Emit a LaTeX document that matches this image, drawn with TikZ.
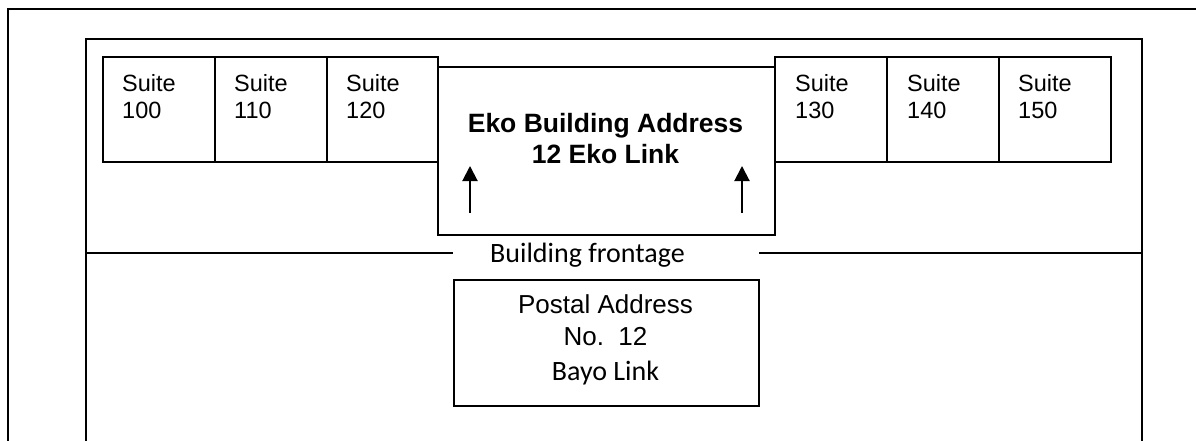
\documentclass[tikz,border=0pt]{standalone}
\usepackage{fontspec}
\setmainfont{Liberation Sans}
\newfontfamily\carlitofont{Carlito}
\usetikzlibrary{arrows.meta}
\begin{document}
\begin{tikzpicture}[x=1pt,y=-1pt,
  frame/.style={line width=2pt, draw=black},
  box/.style={draw=black, line width=2pt, inner sep=0pt, anchor=north west},
  suitebox/.style={box, minimum width=112pt, minimum height=105pt},
  suitetxt/.style={anchor=north west, inner sep=0pt, align=left, font=\fontsize{23.5}{27}\selectfont},
  uparrow/.style={line width=2pt, -{Triangle[width=15pt,length=15pt]}},
  lbl/.style={inner sep=0pt, anchor=base}
]
\useasboundingbox (0,0) rectangle (1196,441);
% frames
\coordinate (o1) at (1196,9);
\coordinate (o2) at (8,9);
\coordinate (o3) at (8,441);
\draw[frame] (o1) -- (o2) -- (o3);
\coordinate (i1) at (86,441);
\coordinate (i2) at (86,39);
\coordinate (i3) at (1142,39);
\coordinate (i4) at (1142,441);
\draw[frame] (i1) -- (i2) -- (i3) -- (i4);
% left suites
\node[suitebox] (s100) at (102,56) {};
\node[suitebox] (s110) at (214,56) {};
\node[suitebox, minimum width=111pt] (s120) at (326,56) {};
% center box
\node[box, minimum width=337pt, minimum height=168pt] (eko) at (437,66) {};
% right suites
\node[suitebox] (s130) at (774,56) {};
\node[suitebox] (s140) at (886,56) {};
\node[suitebox] (s150) at (998,56) {};
% suite labels
\node[suitetxt] (t100) at (122,74) {Suite\\100};
\node[suitetxt] (t110) at (234,74) {Suite\\110};
\node[suitetxt] (t120) at (346,74) {Suite\\120};
\node[suitetxt] (t130) at (795,74) {Suite\\130};
\node[suitetxt] (t140) at (907,74) {Suite\\140};
\node[suitetxt] (t150) at (1018,74) {Suite\\150};
% eko text
\node[lbl, font=\bfseries\fontsize{26.5}{30}\selectfont] (ekoA) at (605.5,132) {Eko Building Address};
\node[lbl, font=\bfseries\fontsize{26.5}{30}\selectfont] (ekoB) at (605.5,163) {12 Eko Link};
% arrows
\coordinate (a1s) at (470,213);
\coordinate (a1e) at (470,166);
\coordinate (a2s) at (742,213);
\coordinate (a2e) at (742,166);
\draw[uparrow] (a1s) -- (a1e);
\draw[uparrow] (a2s) -- (a2e);
% frontage
\coordinate (f1) at (86,253);
\coordinate (f2) at (453,253);
\coordinate (f3) at (759,253);
\coordinate (f4) at (1142,253);
\draw[frame] (f1) -- (f2);
\draw[frame] (f3) -- (f4);
\node[lbl, font=\carlitofont\fontsize{28}{32}\selectfont] (front) at (587.5,262) {Building frontage};
% postal box
\node[box, minimum width=305pt, minimum height=126pt] (postal) at (453,279) {};
\node[lbl, font=\fontsize{26}{30}\selectfont] (pA) at (605.5,313) {Postal Address};
\node[lbl, font=\fontsize{26}{30}\selectfont] (pB) at (605.5,345) {No.\ \ 12};
\node[lbl, font=\carlitofont\fontsize{28}{32}\selectfont] (pC) at (605.5,380) {Bayo Link};
\end{tikzpicture}
\end{document}
